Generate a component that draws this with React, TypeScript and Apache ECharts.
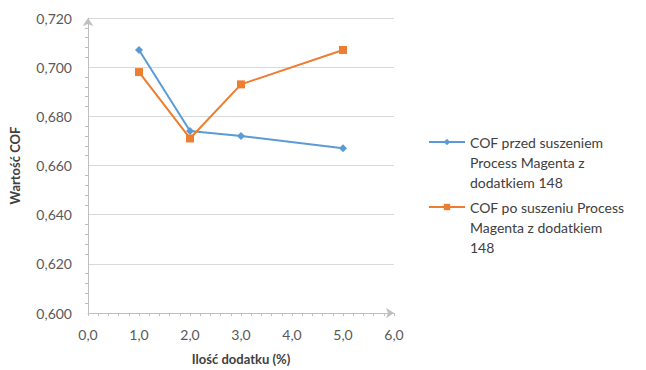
import React, { useEffect, useRef } from "react";
import * as echarts from "echarts";

// Additive amount (%) on the x axis
const additive = [1, 2, 3, 5];
// COF before drying
const cofBefore = [0.707, 0.674, 0.672, 0.667];
// COF after drying
const cofAfter = [0.698, 0.671, 0.693, 0.707];

const seriesNames = [
  "COF przed suszeniem Process Magenta z dodatkiem 148",
  "COF po suszeniu Process Magenta z dodatkiem 148",
];
const legendLines: Record<string, string[]> = {
  [seriesNames[0]]: ["COF przed suszeniem", "Process Magenta z", "dodatkiem 148"],
  [seriesNames[1]]: ["COF po suszeniu Process", "Magenta z dodatkiem", "148"],
};

const FONT = "Lato, 'Open Sans', sans-serif";
const LINE_H = 20;

// Legend entries: the label is centred on its icon, so two blank lines
// above it put the icon level with the label's first line.
const legendFor = (name: string, iconY: number) => ({
  orient: "vertical",
  left: 428,
  top: iconY - LINE_H * 2.5,
  padding: 0,
  itemWidth: 36,
  itemHeight: 8,
  data: [name],
  formatter: (n: string) => [" ", " ", ...(legendLines[n] ?? [n])].join("\n"),
  textStyle: {
    fontFamily: FONT,
    fontSize: 14,
    color: "#404040",
    lineHeight: LINE_H,
  },
});

export default function App() {
  const ref = useRef<HTMLDivElement>(null);

  useEffect(() => {
    if (!ref.current) return;
    const chart = echarts.init(ref.current, undefined, { renderer: "svg" });
    const toPairs = (ys: number[]) => additive.map((x, i) => [x, ys[i]]);
    const axisLineStyle = { color: "#bfbfbf", width: 1 };
    chart.setOption({
      animation: false,
      backgroundColor: "#ffffff",
      textStyle: { fontFamily: FONT },
      grid: { left: 88, right: 252, top: 18, bottom: 56, containLabel: false },
      xAxis: {
        type: "value",
        min: 0,
        max: 6,
        interval: 1,
        name: "Ilość dodatku (%)",
        nameLocation: "middle",
        nameGap: 39,
        nameTextStyle: { fontFamily: FONT, fontSize: 13, fontWeight: "bold", color: "#404040" },
        axisLine: {
          show: true,
          lineStyle: axisLineStyle,
          symbol: ["none", "arrow"],
          symbolSize: [8, 8],
        },
        axisTick: { show: true, length: 3, lineStyle: { color: "#bfbfbf" } },
        minorTick: { show: true, splitNumber: 5, length: 3, lineStyle: { color: "#bfbfbf" } },
        splitLine: { show: false },
        axisLabel: {
          fontFamily: FONT,
          fontSize: 14,
          color: "#595959",
          margin: 14,
          formatter: (v: number) => v.toFixed(1).replace(".", ","),
        },
      },
      yAxis: {
        type: "value",
        min: 0.6,
        max: 0.72,
        interval: 0.02,
        name: "Wartość COF",
        nameLocation: "middle",
        nameGap: 67,
        nameRotate: 90,
        nameTextStyle: { fontFamily: FONT, fontSize: 13, fontWeight: "bold", color: "#404040" },
        axisLine: {
          show: true,
          lineStyle: axisLineStyle,
          symbol: ["none", "arrow"],
          symbolSize: [8, 8],
        },
        axisTick: { show: false },
        minorTick: { show: true, splitNumber: 5, length: 3, lineStyle: { color: "#bfbfbf" } },
        splitLine: { show: true, lineStyle: { color: "#d9d9d9", width: 1 } },
        axisLabel: {
          fontFamily: FONT,
          fontSize: 14,
          color: "#595959",
          margin: 16,
          formatter: (v: number) => v.toFixed(3).replace(".", ","),
        },
      },
      legend: [legendFor(seriesNames[0], 142), legendFor(seriesNames[1], 207)],
      series: [
        {
          name: seriesNames[0],
          type: "line",
          data: toPairs(cofBefore),
          symbol: "diamond",
          symbolSize: 8,
          itemStyle: { color: "#5b9bd5" },
          lineStyle: { color: "#5b9bd5", width: 2 },
        },
        {
          name: seriesNames[1],
          type: "line",
          data: toPairs(cofAfter),
          symbol: "rect",
          symbolSize: 8,
          itemStyle: { color: "#ed7d31" },
          lineStyle: { color: "#ed7d31", width: 2 },
        },
      ],
    });
    return () => chart.dispose();
  }, []);

  return <div ref={ref} style={{ width: 646, height: 370, position: "absolute", left: 0, top: 0 }} />;
}
